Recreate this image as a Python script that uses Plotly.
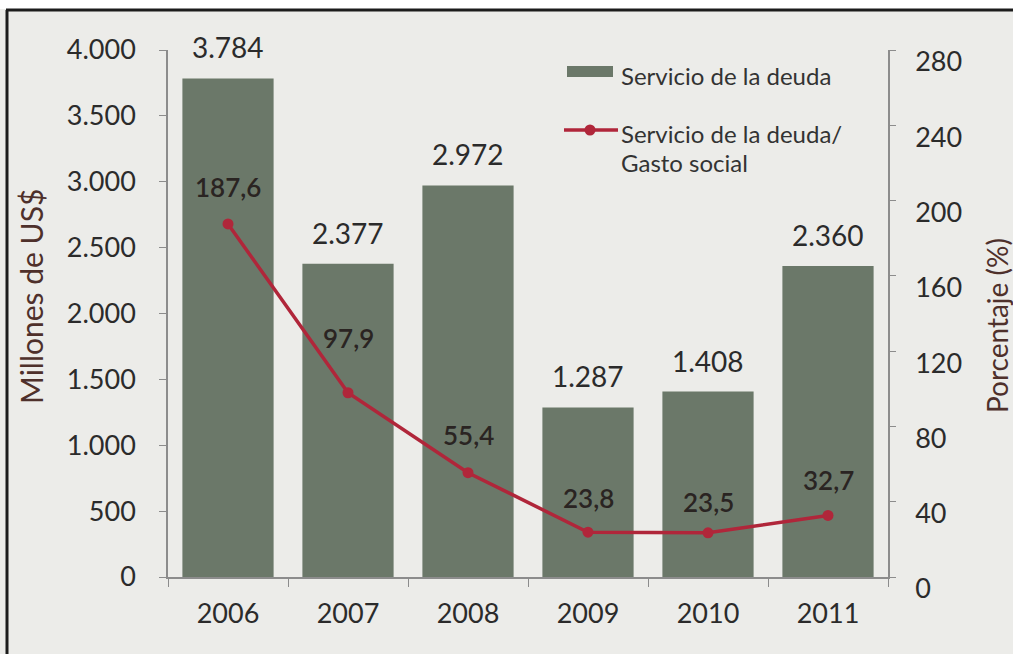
import plotly.graph_objects as go

# Series values
years = ["2006", "2007", "2008", "2009", "2010", "2011"]
servicio_deuda = [3784, 2377, 2972, 1287, 1408, 2360]          # millones de US$
servicio_gasto_social = [187.6, 97.9, 55.4, 23.8, 23.5, 32.7]  # porcentaje

left_ticks = [0, 500, 1000, 1500, 2000, 2500, 3000, 3500, 4000]
right_ticks = [0, 40, 80, 120, 160, 200, 240, 280]

# Styling
W, H = 1013, 654
PL, PR, PT, PB = 168, 888, 50, 577          # plot area in pixels
BAR_COLOR = "#6b7869"
LINE_COLOR = "#b0263a"
TEXT = "#2b2b2b"
TITLE = "#4e302b"
AXIS = "#8c8c8c"
BG = "#ecece9"
FONT = "Lato"
# vertical offsets (px) of the percentage labels above their points
line_label_shift = [37, 55, 38, 34, 31, 35]


def xp(px):
    return (px - PL) / (PR - PL)


def yp(py):
    return (PB - py) / (PB - PT)


fig = go.Figure()

fig.add_trace(go.Bar(
    x=years, y=servicio_deuda, name="Servicio de la deuda",
    marker=dict(color=BAR_COLOR, line=dict(width=0)),
    yaxis="y", showlegend=False,
))

fig.add_trace(go.Scatter(
    x=years, y=servicio_gasto_social, name="Servicio de la deuda/ Gasto social",
    mode="lines+markers",
    line=dict(color=LINE_COLOR, width=3.5),
    marker=dict(color=LINE_COLOR, size=11),
    yaxis="y2", showlegend=False,
))

annotations = []

# value labels above bars (x given as category index)
for i, v in enumerate(servicio_deuda):
    annotations.append(dict(
        x=i, y=v, xref="x", yref="y", yshift=31,
        text=f"{v:,}".replace(",", "."), showarrow=False,
        font=dict(family=FONT, size=28, color=TEXT),
        xanchor="center", yanchor="middle",
    ))

# value labels above line points
for i, (v, s) in enumerate(zip(servicio_gasto_social, line_label_shift)):
    annotations.append(dict(
        x=i, y=v, xref="x", yref="y2", yshift=s,
        text=f"{v:.1f}".replace(".", ","), showarrow=False,
        font=dict(family=FONT, size=26, color="#2a2422", weight=600),
        xanchor="center", yanchor="middle",
    ))

# axis titles
annotations.append(dict(
    x=xp(31), y=yp(297), xref="paper", yref="paper",
    text="Millones de US$", textangle=-90, showarrow=False,
    font=dict(family=FONT, size=30, color=TITLE),
    xanchor="center", yanchor="middle",
))
annotations.append(dict(
    x=xp(997), y=yp(325), xref="paper", yref="paper",
    text="Porcentaje (%)", textangle=-90, showarrow=False,
    font=dict(family=FONT, size=28, color=TITLE),
    xanchor="center", yanchor="middle",
))

# legend text
for txt, py in [("Servicio de la deuda", 76),
                ("Servicio de la deuda/", 133),
                ("Gasto social", 162)]:
    annotations.append(dict(
        x=xp(619), y=yp(py), xref="paper", yref="paper",
        text=txt, showarrow=False,
        font=dict(family=FONT, size=24, color="#333333"),
        xanchor="left", yanchor="middle",
    ))

shapes = [
    # white strip and frame lines along the top and left edges
    dict(type="rect", xref="paper", yref="paper",
         x0=xp(-5), x1=xp(W + 5), y0=yp(-5), y1=yp(9),
         fillcolor="white", line=dict(width=0), layer="below"),
    dict(type="line", xref="paper", yref="paper",
         x0=xp(6), x1=xp(W + 5), y0=yp(10), y1=yp(10),
         line=dict(color="#1c1c1c", width=3)),
    dict(type="line", xref="paper", yref="paper",
         x0=xp(7), x1=xp(7), y0=yp(10), y1=yp(H + 5),
         line=dict(color="#1c1c1c", width=3)),
    # legend swatches
    dict(type="rect", xref="paper", yref="paper",
         x0=xp(567), x1=xp(613), y0=yp(77), y1=yp(66),
         fillcolor=BAR_COLOR, line=dict(width=0)),
    dict(type="line", xref="paper", yref="paper",
         x0=xp(564), x1=xp(618), y0=yp(130), y1=yp(130),
         line=dict(color=LINE_COLOR, width=3.5)),
    dict(type="circle", xref="paper", yref="paper",
         x0=xp(584.5), x1=xp(595.5), y0=yp(135.5), y1=yp(124.5),
         fillcolor=LINE_COLOR, line=dict(width=0)),
]

fig.update_layout(
    width=W, height=H,
    margin=dict(l=PL, r=W - PR, t=PT, b=H - PB),
    paper_bgcolor=BG, plot_bgcolor=BG,
    separators=",.",
    bargap=0.24,
    font=dict(family=FONT, color=TEXT),
    xaxis=dict(
        type="category", range=[-0.5, 5.5],
        showline=True, linecolor=AXIS, linewidth=1.5,
        ticks="outside", tickson="boundaries", ticklen=8, tickcolor=AXIS,
        tickfont=dict(family=FONT, size=27, color=TEXT),
        ticklabelstandoff=12,
        showgrid=False, zeroline=False,
    ),
    yaxis=dict(
        range=[0, 4000], tickvals=left_ticks, tickformat=",.0f",
        showline=True, linecolor=AXIS, linewidth=1.5,
        ticks="outside", ticklen=7, tickcolor=AXIS,
        tickfont=dict(family=FONT, size=27, color=TEXT),
        ticklabelstandoff=18,
        showgrid=False, zeroline=False,
    ),
    yaxis2=dict(
        range=[0, 280], tickvals=right_ticks, overlaying="y", side="right",
        anchor="x",
        showline=True, linecolor=AXIS, linewidth=1.5,
        ticks="outside", ticklen=6, tickcolor=AXIS,
        tickfont=dict(family=FONT, size=27, color=TEXT),
        ticklabelstandoff=14, ticklabelshift=12,
        showgrid=False, zeroline=False,
    ),
    annotations=annotations,
    shapes=shapes,
)

fig.write_html("out.html")
